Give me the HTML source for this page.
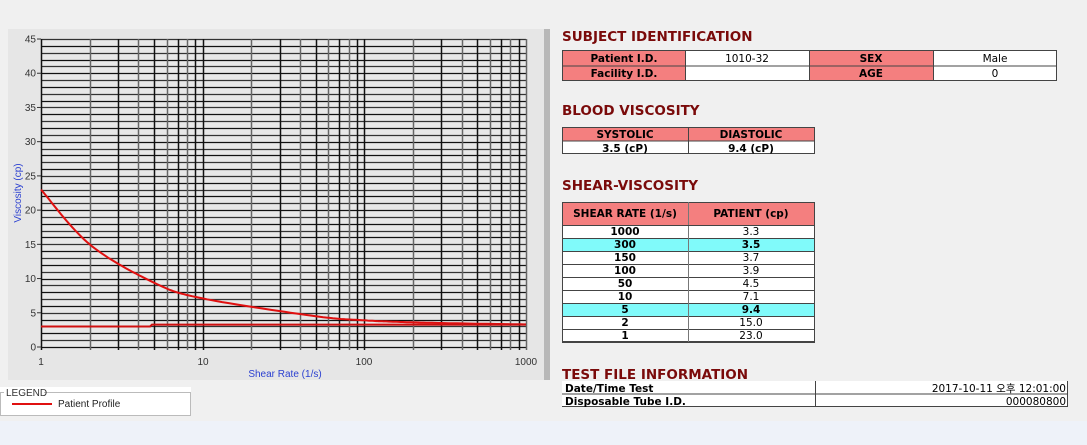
<!DOCTYPE html>
<html><head><meta charset="utf-8"><style>
body{margin:0;width:1087px;height:445px;overflow:hidden;background:#f0f0f0;font-family:"Liberation Sans","Noto Sans CJK KR",sans-serif}
</style></head><body>
<svg width="1087" height="445" xmlns="http://www.w3.org/2000/svg" style="position:absolute;left:0;top:0;font-family:'Liberation Sans','Noto Sans CJK KR',sans-serif">
<rect x="0" y="0" width="1087" height="445" fill="#f0f0f0"/>
<rect x="0" y="421" width="1087" height="24" fill="#eef2f9"/>
<rect x="8" y="29" width="542" height="351" fill="#e6e6e6"/>
<rect x="544" y="29" width="6" height="351" fill="#b8b8b8"/>
<rect x="41" y="39" width="485" height="308" fill="#e8e8e8"/>
<g id="h" stroke-width="1.3"></g>
<g id="v" stroke-width="1.5"></g>
<g font-size="10" fill="#333" text-anchor="end" id="yl"></g>
<g font-size="10" fill="#333" text-anchor="middle">
<text x="41" y="365">1</text><text x="203" y="365">10</text><text x="364" y="365">100</text><text x="526" y="365">1000</text>
</g>
<text x="285" y="377" font-size="10" fill="#2a3fd0" text-anchor="middle">Shear Rate (1/s)</text>
<text transform="translate(21,193) rotate(-90)" font-size="10" fill="#2a3fd0" text-anchor="middle">Viscosity (cp)</text>
<polyline id="curve" fill="none" stroke="#e01010" stroke-width="2" points=""/>
<polyline fill="none" stroke="#d01010" stroke-width="2" points="41,326.5 150,326.5 152,324.6 526,324.6"/>
<rect x="0" y="387" width="191" height="29" fill="#fff"/>
<rect x="0.5" y="392.5" width="190" height="23" fill="none" stroke="#bbb"/>
<rect x="4" y="387" width="40" height="10" fill="#fff"/>
<text x="6" y="396" font-size="10" fill="#333">LEGEND</text>
<line x1="12" y1="404" x2="52" y2="404" stroke="#e01010" stroke-width="2"/>
<text x="58" y="407" font-size="10" fill="#222">Patient Profile</text>
<g font-size="13.5" font-weight="bold" fill="#7a0a0a" font-family="DejaVu Sans, sans-serif">
<text x="562" y="41">SUBJECT IDENTIFICATION</text>
<text x="562" y="115">BLOOD VISCOSITY</text>
<text x="562" y="190">SHEAR-VISCOSITY</text>
<text x="562" y="379">TEST FILE INFORMATION</text>
</g>
<g font-size="10.5" font-family="DejaVu Sans, 'Noto Sans CJK KR', sans-serif">
<rect x="562" y="50" width="495" height="31" fill="#fff"/>
<rect x="562" y="50" width="123" height="31" fill="#f47f7f"/>
<rect x="809" y="50" width="124" height="31" fill="#f47f7f"/>
<g stroke="#444" fill="none"><rect x="562.5" y="50.5" width="494" height="30"/><line x1="562" y1="66" x2="1057" y2="66"/><line x1="685.5" y1="50" x2="685.5" y2="81"/><line x1="809.5" y1="50" x2="809.5" y2="81"/><line x1="933.5" y1="50" x2="933.5" y2="81"/></g>
<g text-anchor="middle"><text x="624" y="62" font-weight="bold">Patient I.D.</text><text x="747" y="62">1010-32</text><text x="871" y="62" font-weight="bold">SEX</text><text x="995" y="62">Male</text>
<text x="624" y="77" font-weight="bold">Facility I.D.</text><text x="871" y="77" font-weight="bold">AGE</text><text x="995" y="77">0</text></g>
</g>
<g font-size="10.5" font-weight="bold" text-anchor="middle" font-family="DejaVu Sans, sans-serif">
<rect x="562" y="127" width="253" height="14" fill="#f47f7f"/><rect x="562" y="141" width="253" height="13" fill="#fff"/>
<g stroke="#444" fill="none"><rect x="562.5" y="127.5" width="252" height="26"/><line x1="562" y1="141" x2="815" y2="141"/><line x1="688.5" y1="127" x2="688.5" y2="154"/></g>
<text x="625" y="138">SYSTOLIC</text><text x="751" y="138">DIASTOLIC</text>
<text x="625" y="152">3.5 (cP)</text><text x="751" y="152">9.4 (cP)</text>
</g>
<g font-size="10.5" text-anchor="middle" id="st" font-family="DejaVu Sans, sans-serif">
<rect x="562" y="202" width="253" height="23" fill="#f47f7f"/>
<rect x="562" y="225" width="253" height="117" fill="#fff"/>
<rect x="562" y="238" width="253" height="13" fill="#80fafa"/>
<rect x="562" y="303" width="253" height="13" fill="#80fafa"/>
<text x="625" y="217" font-weight="bold">SHEAR RATE (1/s)</text><text x="751" y="217" font-weight="bold">PATIENT (cp)</text>
</g>
<g font-size="10.5" font-family="DejaVu Sans, 'Noto Sans CJK KR', sans-serif">
<rect x="562" y="381" width="506" height="26" fill="#fff"/>
<g stroke="#444" fill="none"><line x1="562" y1="394" x2="1068" y2="394"/><line x1="562" y1="406.5" x2="1068" y2="406.5"/><line x1="1067.5" y1="381" x2="1067.5" y2="407"/><line x1="815.5" y1="381" x2="815.5" y2="407"/></g>
<text x="565" y="392" font-weight="bold">Date/Time Test</text><text x="565" y="405" font-weight="bold">Disposable Tube I.D.</text>
<text x="1066" y="392" text-anchor="end">2017-10-11  오후 12:01:00</text><text x="1066" y="405" text-anchor="end">000080800</text>
</g>
</svg>
<script>
var ns="http://www.w3.org/2000/svg";
function el(p,t,a,txt){var e=document.createElementNS(ns,t);for(var k in a)e.setAttribute(k,a[k]);if(txt!=null)e.textContent=txt;document.getElementById(p).appendChild(e);return e;}
for(var v=0;v<=45;v++){var y=347-v*6.844;y=Math.round(y)+0.5;el('h','line',{x1:41,x2:526,y1:y,y2:y,stroke:(v%2?'#333':'#111')});}
for(var d=0;d<3;d++)for(var k=1;k<=10;k++){if(k==10&&d<2)continue;var x=41+(d+Math.log10(k))*161.67;x=Math.round(x)+0.5;el('v','line',{x1:x,x2:x,y1:39,y2:350,stroke:(k%2==0?'#666':'#111')});}
for(var v=0;v<=45;v+=5){var y=347-v*6.844;el('yl','text',{x:36,y:y+3.5},String(v));el('yl','line',{x1:37,x2:41,y1:y,y2:y,stroke:'#333'});}
var rows=[["1000","3.3"],["300","3.5"],["150","3.7"],["100","3.9"],["50","4.5"],["10","7.1"],["5","9.4"],["2","15.0"],["1","23.0"]];
for(var i=0;i<9;i++){var y=225+i*13;el('st','text',{x:625,y:y+10,'font-weight':'bold'},rows[i][0]);el('st','text',{x:751,y:y+10,'font-weight':(i==1||i==6)?'bold':'normal'},rows[i][1]);el('st','line',{x1:562,x2:815,y1:y+13.5,y2:y+13.5,stroke:'#444'});}
el('st','rect',{x:562.5,y:202.5,width:252,height:139,fill:'none',stroke:'#444'});
el('st','line',{x1:688.5,x2:688.5,y1:202,y2:342,stroke:'#777'});
el('st','line',{x1:562,x2:815,y1:225.5,y2:225.5,stroke:'#444'});
// smooth curve via Catmull-Rom in log space
var P=[[1,23],[2,15],[5,9.4],[10,7.1],[50,4.5],[100,3.9],[150,3.7],[300,3.5],[1000,3.3]].map(function(p){return [41+Math.log10(p[0])*161.67,347-p[1]*6.844];});
var pts=[];
for(var i=0;i<P.length-1;i++){var p0=P[Math.max(0,i-1)],p1=P[i],p2=P[i+1],p3=P[Math.min(P.length-1,i+2)];
for(var t=0;t<1;t+=0.05){var t2=t*t,t3=t2*t;var f=function(a,b,c,d){return 0.5*((2*b)+(-a+c)*t+(2*a-5*b+4*c-d)*t2+(-a+3*b-3*c+d)*t3);};pts.push(f(p0[0],p1[0],p2[0],p3[0]).toFixed(1)+","+f(p0[1],p1[1],p2[1],p3[1]).toFixed(1));}}
pts.push(P[P.length-1].join(","));
document.getElementById('curve').setAttribute('points',pts.join(" "));
</script>
</body></html>
